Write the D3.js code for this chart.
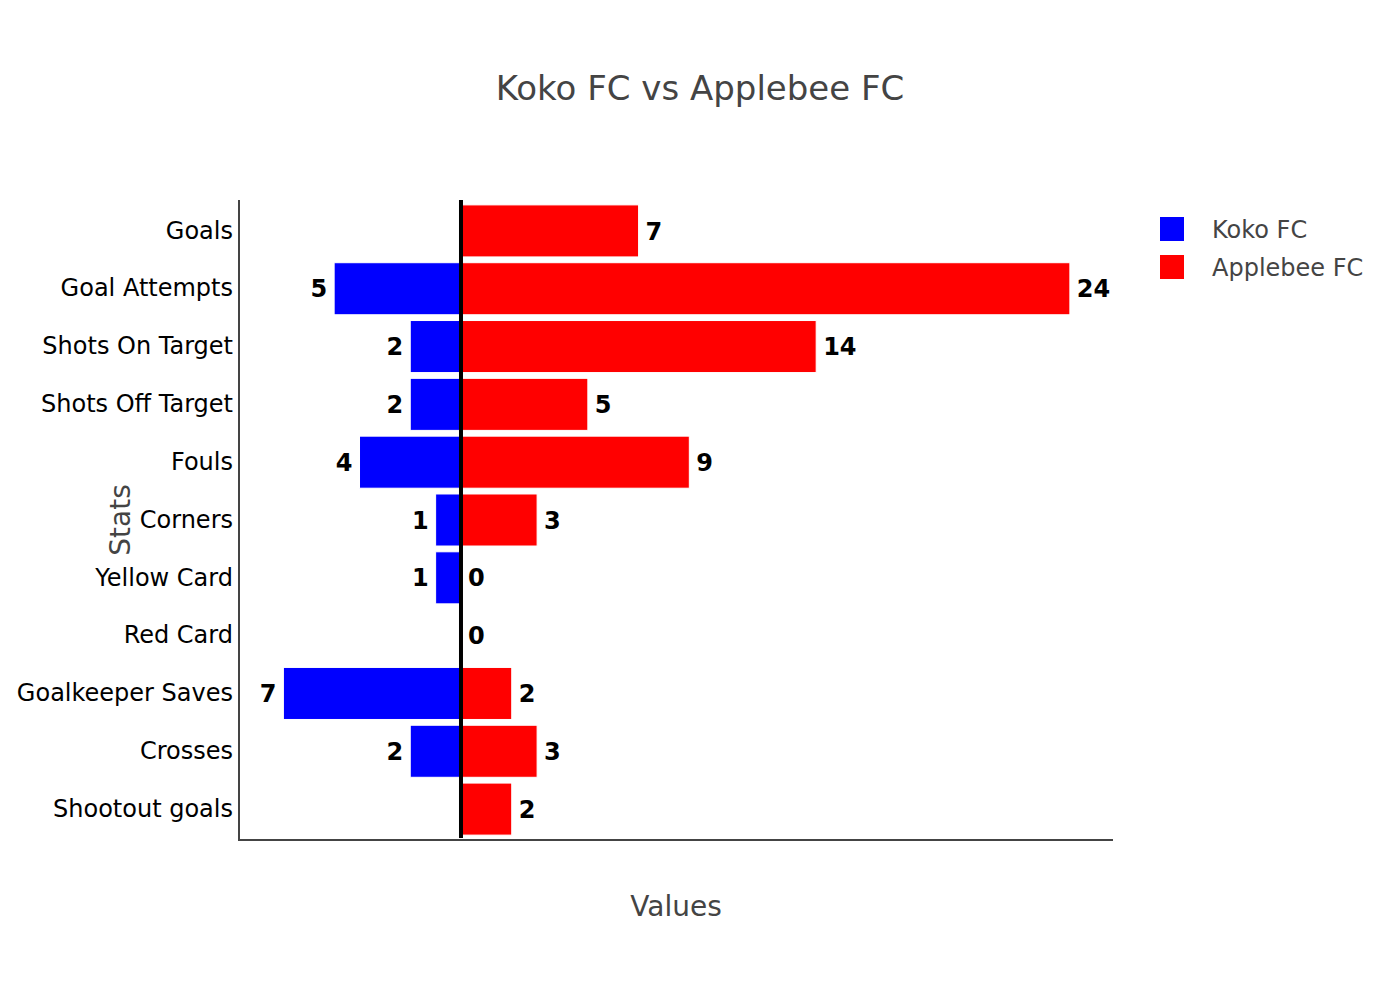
<!DOCTYPE html>
<html>
<head>
<meta charset="utf-8">
<script src="https://cdn.jsdelivr.net/npm/d3@7"></script>
<style>
  body { margin: 0; background: #fff; }
  text { font-family: "DejaVu Sans", Verdana, sans-serif; }
</style>
</head>
<body>
<div id="chart"></div>
<script>
const stats = ["Goals", "Goal Attempts", "Shots On Target", "Shots Off Target", "Fouls",
  "Corners", "Yellow Card", "Red Card", "Goalkeeper Saves", "Crosses", "Shootout goals"];
const koko = [null, 5, 2, 2, 4, 1, 1, null, 7, 2, null];
const applebee = [7, 24, 14, 5, 9, 3, 0, 0, 2, 3, 2];
const teams = ["Koko FC", "Applebee FC"];
const teamColors = ["#0000ff", "#ff0000"];

const width = 1400, height = 1000;
const margin = { left: 239, right: 287, top: 200, bottom: 160 };

const svg = d3.select("#chart").append("svg")
  .attr("width", width)
  .attr("height", height);

const x = d3.scaleLinear()
  .domain([-8.75, 25.7])
  .range([margin.left, width - margin.right]);

const y = d3.scaleBand()
  .domain(stats)
  .range([margin.top + 2, height - margin.bottom - 2])
  .paddingInner(0.1)
  .paddingOuter(0.05);

// title
svg.append("text")
  .attr("x", 700).attr("y", 100)
  .attr("text-anchor", "middle")
  .attr("font-size", 34)
  .attr("fill", "#444")
  .text("Koko FC vs Applebee FC");

const kokoData = stats.map((s, i) => ({ stat: s, v: koko[i] })).filter(d => d.v !== null);
const appData = stats.map((s, i) => ({ stat: s, v: applebee[i] }));

// koko bars go left (negative side)
svg.append("g").selectAll("rect")
  .data(kokoData)
  .join("rect")
  .attr("x", d => x(-d.v))
  .attr("y", d => y(d.stat))
  .attr("width", d => x(0) - x(-d.v))
  .attr("height", y.bandwidth())
  .attr("fill", teamColors[0])
  .attr("stroke", "#fff")
  .attr("stroke-width", 1);

svg.append("g").selectAll("rect")
  .data(appData)
  .join("rect")
  .attr("x", x(0))
  .attr("y", d => y(d.stat))
  .attr("width", d => x(d.v) - x(0))
  .attr("height", y.bandwidth())
  .attr("fill", teamColors[1])
  .attr("stroke", "#fff")
  .attr("stroke-width", 1);

// value labels
svg.append("g").selectAll("text")
  .data(kokoData)
  .join("text")
  .attr("x", d => x(-d.v) - 7)
  .attr("y", d => y(d.stat) + y.bandwidth() / 2)
  .attr("dy", "0.36em")
  .attr("text-anchor", "end")
  .attr("font-size", 24)
  .attr("font-weight", "bold")
  .text(d => d.v);

svg.append("g").selectAll("text")
  .data(appData)
  .join("text")
  .attr("x", d => x(d.v) + 7)
  .attr("y", d => y(d.stat) + y.bandwidth() / 2)
  .attr("dy", "0.36em")
  .attr("font-size", 24)
  .attr("font-weight", "bold")
  .text(d => d.v);

// zero line
svg.append("line")
  .attr("x1", x(0)).attr("x2", x(0))
  .attr("y1", margin.top).attr("y2", height - margin.bottom - 2)
  .attr("stroke", "#000")
  .attr("stroke-width", 4);

// y axis
const yAxis = svg.append("g")
  .attr("transform", `translate(${margin.left},0)`)
  .call(d3.axisLeft(y).tickSize(0).tickPadding(6));
yAxis.select(".domain")
  .attr("d", `M0,${margin.top}V${height - margin.bottom}`)
  .attr("stroke", "#444").attr("stroke-width", 2);
yAxis.selectAll("text").attr("font-size", 24).attr("fill", "#000")
  .attr("font-family", "DejaVu Sans, Verdana, sans-serif");

// bottom axis line (no ticks)
svg.append("line")
  .attr("x1", margin.left - 1).attr("x2", width - margin.right)
  .attr("y1", height - margin.bottom).attr("y2", height - margin.bottom)
  .attr("stroke", "#444").attr("stroke-width", 2);

// axis titles
svg.append("text")
  .attr("x", (margin.left + width - margin.right) / 2)
  .attr("y", 916)
  .attr("text-anchor", "middle")
  .attr("font-size", 28)
  .attr("fill", "#444")
  .text("Values");

svg.append("text")
  .attr("transform", `translate(130,${(margin.top + height - margin.bottom) / 2}) rotate(-90)`)
  .attr("text-anchor", "middle")
  .attr("font-size", 28)
  .attr("fill", "#444")
  .text("Stats");

// legend
const legend = svg.append("g").attr("transform", "translate(1160,217)");
teams.forEach((t, i) => {
  const row = legend.append("g").attr("transform", `translate(0,${i * 38})`);
  row.append("rect")
    .attr("width", 24).attr("height", 24)
    .attr("fill", teamColors[i]);
  row.append("text")
    .attr("x", 52).attr("y", 12)
    .attr("dy", "0.36em")
    .attr("font-size", 24)
    .attr("fill", "#444")
    .text(t);
});
</script>
</body>
</html>
